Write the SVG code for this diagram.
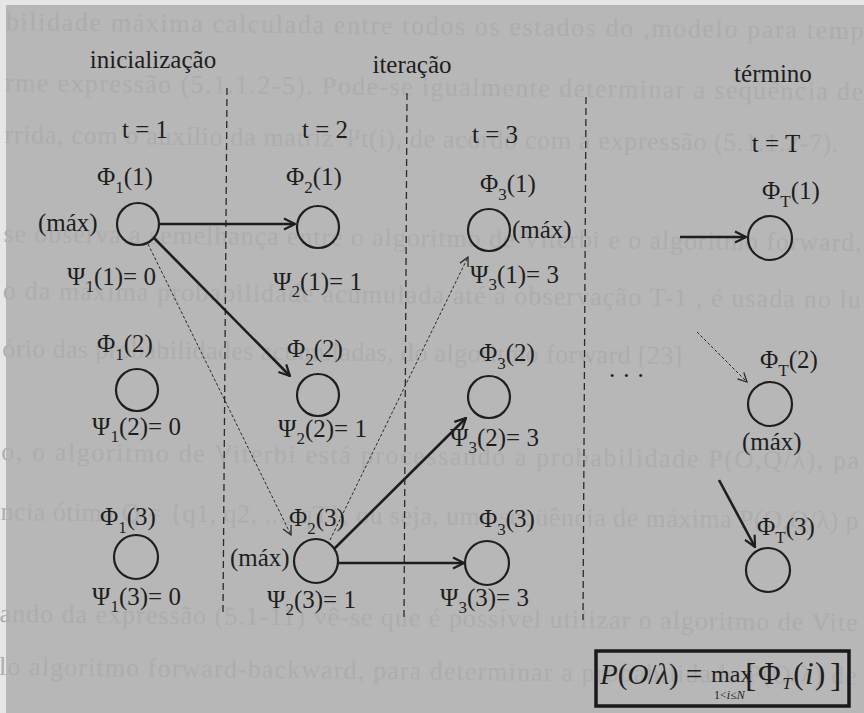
<svg xmlns="http://www.w3.org/2000/svg" width="864" height="713" viewBox="0 0 864 713">
<style>
text{font-family:"Liberation Serif","Times New Roman",serif;fill:#1e1e1e}
.lab{font-size:25px}
.head{font-size:25px}
.sub{font-size:17px}
.bleed{font-size:26px;fill:#adadad}
.node{fill:none;stroke:#1e1e1e;stroke-width:2.2}
.solid{fill:none;stroke:#1e1e1e;stroke-width:2.6}
.thin{fill:none;stroke:#2a2a2a;stroke-width:1;stroke-dasharray:3 2}
.sep{fill:none;stroke:#2a2a2a;stroke-width:1.3;stroke-dasharray:7 4}
</style>
<defs>
<marker id="ah" markerUnits="userSpaceOnUse" viewBox="0 0 14 14" markerWidth="14" markerHeight="14" refX="13" refY="7" orient="auto">
<path d="M2,1.5 L13,7 L2,12.5" fill="none" stroke="#1e1e1e" stroke-width="2.2"/>
</marker>
<marker id="ahThin" markerUnits="userSpaceOnUse" viewBox="0 0 12 12" markerWidth="12" markerHeight="12" refX="11" refY="6" orient="auto">
<path d="M2,1.5 L11,6 L2,10.5" fill="none" stroke="#2a2a2a" stroke-width="1.3"/>
</marker>
</defs>
<rect x="0" y="0" width="864" height="713" fill="#b7b7b7"/>
<rect x="0" y="0" width="864" height="5" fill="#e6e6e6"/>
<rect x="0" y="0" width="6" height="713" fill="#e6e6e6"/>
<g id="bleed-through" transform="rotate(0.6)">
<text class="bleed" x="6" y="30" textLength="858" lengthAdjust="spacing">bilidade máxima calculada entre todos os estados do ,modelo para temp</text>
<text class="bleed" x="6" y="91" textLength="858" lengthAdjust="spacing">rme expressão (5.1.1.2-5). Pode-se igualmente determinar a sequência de</text>
<text class="bleed" x="6" y="143" textLength="834" lengthAdjust="spacing">rrida, com o auxílio da matriz Ψt(i), de acordo com a expressão (5.1.1.2-7).</text>
<text class="bleed" x="6" y="242" textLength="858" lengthAdjust="spacing">se observa a semelhança entre o algoritmo de Viterbi e o algoritmo forward,</text>
<text class="bleed" x="6" y="299" textLength="858" lengthAdjust="spacing">o da máxima probabilidade acumulada até a observação T-1 , é usada no lu</text>
<text class="bleed" x="6" y="357" textLength="680" lengthAdjust="spacing">ório das probabilidades acumuladas, do algoritmo forward [23]</text>
<text class="bleed" x="6" y="460" textLength="858" lengthAdjust="spacing">o, o algoritmo de Viterbi está processando a probabilidade P(O,Q/λ), pa</text>
<text class="bleed" x="6" y="520" textLength="858" lengthAdjust="spacing">ncia ótima Q = {q1, q2, ..., qT}, ou seja, uma seqüência de máxima P(O,Q/λ) p</text>
<text class="bleed" x="6" y="622" textLength="858" lengthAdjust="spacing">ando da expressão (5.1-11) vê-se que é possível utilizar o algoritmo de Vite</text>
<text class="bleed" x="6" y="675" textLength="858" lengthAdjust="spacing">lo algoritmo forward-backward, para determinar a probabilidade P(O/λ) de</text>
</g>
<g id="headings">
<text class="head" x="153" y="68" text-anchor="middle">inicialização</text>
<text class="head" x="412" y="73" text-anchor="middle">iteração</text>
<text class="head" x="773" y="82" text-anchor="middle">término</text>
<text class="lab" x="145" y="138" text-anchor="middle">t = 1</text>
<text class="lab" x="325" y="138" text-anchor="middle">t = 2</text>
<text class="lab" x="495" y="143" text-anchor="middle">t = 3</text>
<text class="lab" x="776" y="152" text-anchor="middle">t = T</text>
</g>
<g id="separators">
<line class="sep" x1="227" y1="88" x2="223" y2="613"/>
<line class="sep" x1="407" y1="93" x2="404" y2="617"/>
<line class="sep" x1="586" y1="97" x2="583" y2="620"/>
</g>
<g id="n1-1">
<text class="lab" x="97" y="185">Φ<tspan class="sub" dy="8">1</tspan><tspan dy="-8">(1)</tspan></text>
<circle class="node" cx="138" cy="224" r="21"/>
<text class="lab" x="38" y="231">(máx)</text>
<text class="lab" x="67" y="285">Ψ<tspan class="sub" dy="7">1</tspan><tspan dy="-7">(1)= 0</tspan></text>
</g>
<g id="n1-2">
<text class="lab" x="97" y="352">Φ<tspan class="sub" dy="8">1</tspan><tspan dy="-8">(2)</tspan></text>
<circle class="node" cx="137" cy="390" r="21"/>
<text class="lab" x="92" y="435">Ψ<tspan class="sub" dy="7">1</tspan><tspan dy="-7">(2)= 0</tspan></text>
</g>
<g id="n1-3">
<text class="lab" x="100" y="525">Φ<tspan class="sub" dy="8">1</tspan><tspan dy="-8">(3)</tspan></text>
<circle class="node" cx="136" cy="557" r="22"/>
<text class="lab" x="92" y="605">Ψ<tspan class="sub" dy="7">1</tspan><tspan dy="-7">(3)= 0</tspan></text>
</g>
<g id="n2-1">
<text class="lab" x="286" y="185">Φ<tspan class="sub" dy="8">2</tspan><tspan dy="-8">(1)</tspan></text>
<circle class="node" cx="318" cy="227" r="21"/>
<text class="lab" x="273" y="290">Ψ<tspan class="sub" dy="7">2</tspan><tspan dy="-7">(1)= 1</tspan></text>
</g>
<g id="n2-2">
<text class="lab" x="287" y="357">Φ<tspan class="sub" dy="8">2</tspan><tspan dy="-8">(2)</tspan></text>
<circle class="node" cx="318" cy="395" r="21"/>
<text class="lab" x="278" y="437">Ψ<tspan class="sub" dy="7">2</tspan><tspan dy="-7">(2)= 1</tspan></text>
</g>
<g id="n2-3">
<text class="lab" x="289" y="526">Φ<tspan class="sub" dy="8">2</tspan><tspan dy="-8">(3)</tspan></text>
<circle class="node" cx="316" cy="561" r="22"/>
<text class="lab" x="230" y="566">(máx)</text>
<text class="lab" x="267" y="608">Ψ<tspan class="sub" dy="7">2</tspan><tspan dy="-7">(3)= 1</tspan></text>
</g>
<g id="n3-1">
<text class="lab" x="480" y="192">Φ<tspan class="sub" dy="8">3</tspan><tspan dy="-8">(1)</tspan></text>
<circle class="node" cx="489" cy="230" r="21"/>
<text class="lab" x="512" y="238">(máx)</text>
<text class="lab" x="470" y="283">Ψ<tspan class="sub" dy="7">3</tspan><tspan dy="-7">(1)= 3</tspan></text>
</g>
<g id="n3-2">
<text class="lab" x="479" y="361">Φ<tspan class="sub" dy="8">3</tspan><tspan dy="-8">(2)</tspan></text>
<circle class="node" cx="489" cy="397" r="21"/>
<text class="lab" x="450" y="446">Ψ<tspan class="sub" dy="7">3</tspan><tspan dy="-7">(2)= 3</tspan></text>
</g>
<g id="n3-3">
<text class="lab" x="479" y="527">Φ<tspan class="sub" dy="8">3</tspan><tspan dy="-8">(3)</tspan></text>
<circle class="node" cx="487" cy="563" r="22"/>
<text class="lab" x="440" y="606">Ψ<tspan class="sub" dy="7">3</tspan><tspan dy="-7">(3)= 3</tspan></text>
</g>
<g id="ellipsis">
<text class="lab" x="609" y="377" letter-spacing="8">...</text>
</g>
<g id="nT-1">
<text class="lab" x="762" y="199">Φ<tspan class="sub" dy="8">T</tspan><tspan dy="-8">(1)</tspan></text>
<circle class="node" cx="770" cy="238" r="22"/>
</g>
<g id="nT-2">
<text class="lab" x="760" y="368">Φ<tspan class="sub" dy="8">T</tspan><tspan dy="-8">(2)</tspan></text>
<circle class="node" cx="770" cy="404" r="22"/>
<text class="lab" x="742" y="450">(máx)</text>
</g>
<g id="nT-3">
<text class="lab" x="757" y="535">Φ<tspan class="sub" dy="8">T</tspan><tspan dy="-8">(3)</tspan></text>
<circle class="node" cx="768" cy="570" r="22"/>
</g>
<g id="connectors">
<line class="solid" x1="160" y1="224" x2="295" y2="224" marker-end="url(#ah)"/>
<line class="solid" x1="154" y1="238" x2="290" y2="376" marker-end="url(#ah)"/>
<line class="thin" x1="148" y1="244" x2="291" y2="535" marker-end="url(#ahThin)"/>
<line class="thin" x1="330" y1="540" x2="468" y2="257" marker-end="url(#ahThin)"/>
<line class="solid" x1="334" y1="549" x2="466" y2="418" marker-end="url(#ah)"/>
<line class="solid" x1="338" y1="563" x2="464" y2="563" marker-end="url(#ah)"/>
<line class="solid" x1="680" y1="237" x2="746" y2="237" marker-end="url(#ah)"/>
<line class="thin" x1="697" y1="332" x2="747" y2="382" marker-end="url(#ahThin)"/>
<line class="solid" x1="719" y1="480" x2="755" y2="547" marker-end="url(#ah)"/>
</g>
<g id="formula">
<rect x="596" y="651" width="253" height="55" fill="none" stroke="#1a1a1a" stroke-width="3.5"/>
<text x="600" y="684" font-size="29"><tspan font-style="italic">P</tspan>(<tspan font-style="italic">O</tspan>/<tspan font-style="italic">λ</tspan>) =</text>
<text x="711" y="682" font-size="24">max</text>
<text x="714" y="699" font-size="12">1&lt;<tspan font-style="italic">i</tspan>≤<tspan font-style="italic">N</tspan></text>
<text x="745" y="686" font-size="34">[</text>
<text x="758" y="684" font-size="31" letter-spacing="1.5">Φ<tspan font-size="17" font-style="italic" dy="5">T</tspan><tspan dy="-5">(</tspan><tspan font-style="italic">i</tspan>)</text>
<text x="830" y="686" font-size="34">]</text>
</g>
</svg>
